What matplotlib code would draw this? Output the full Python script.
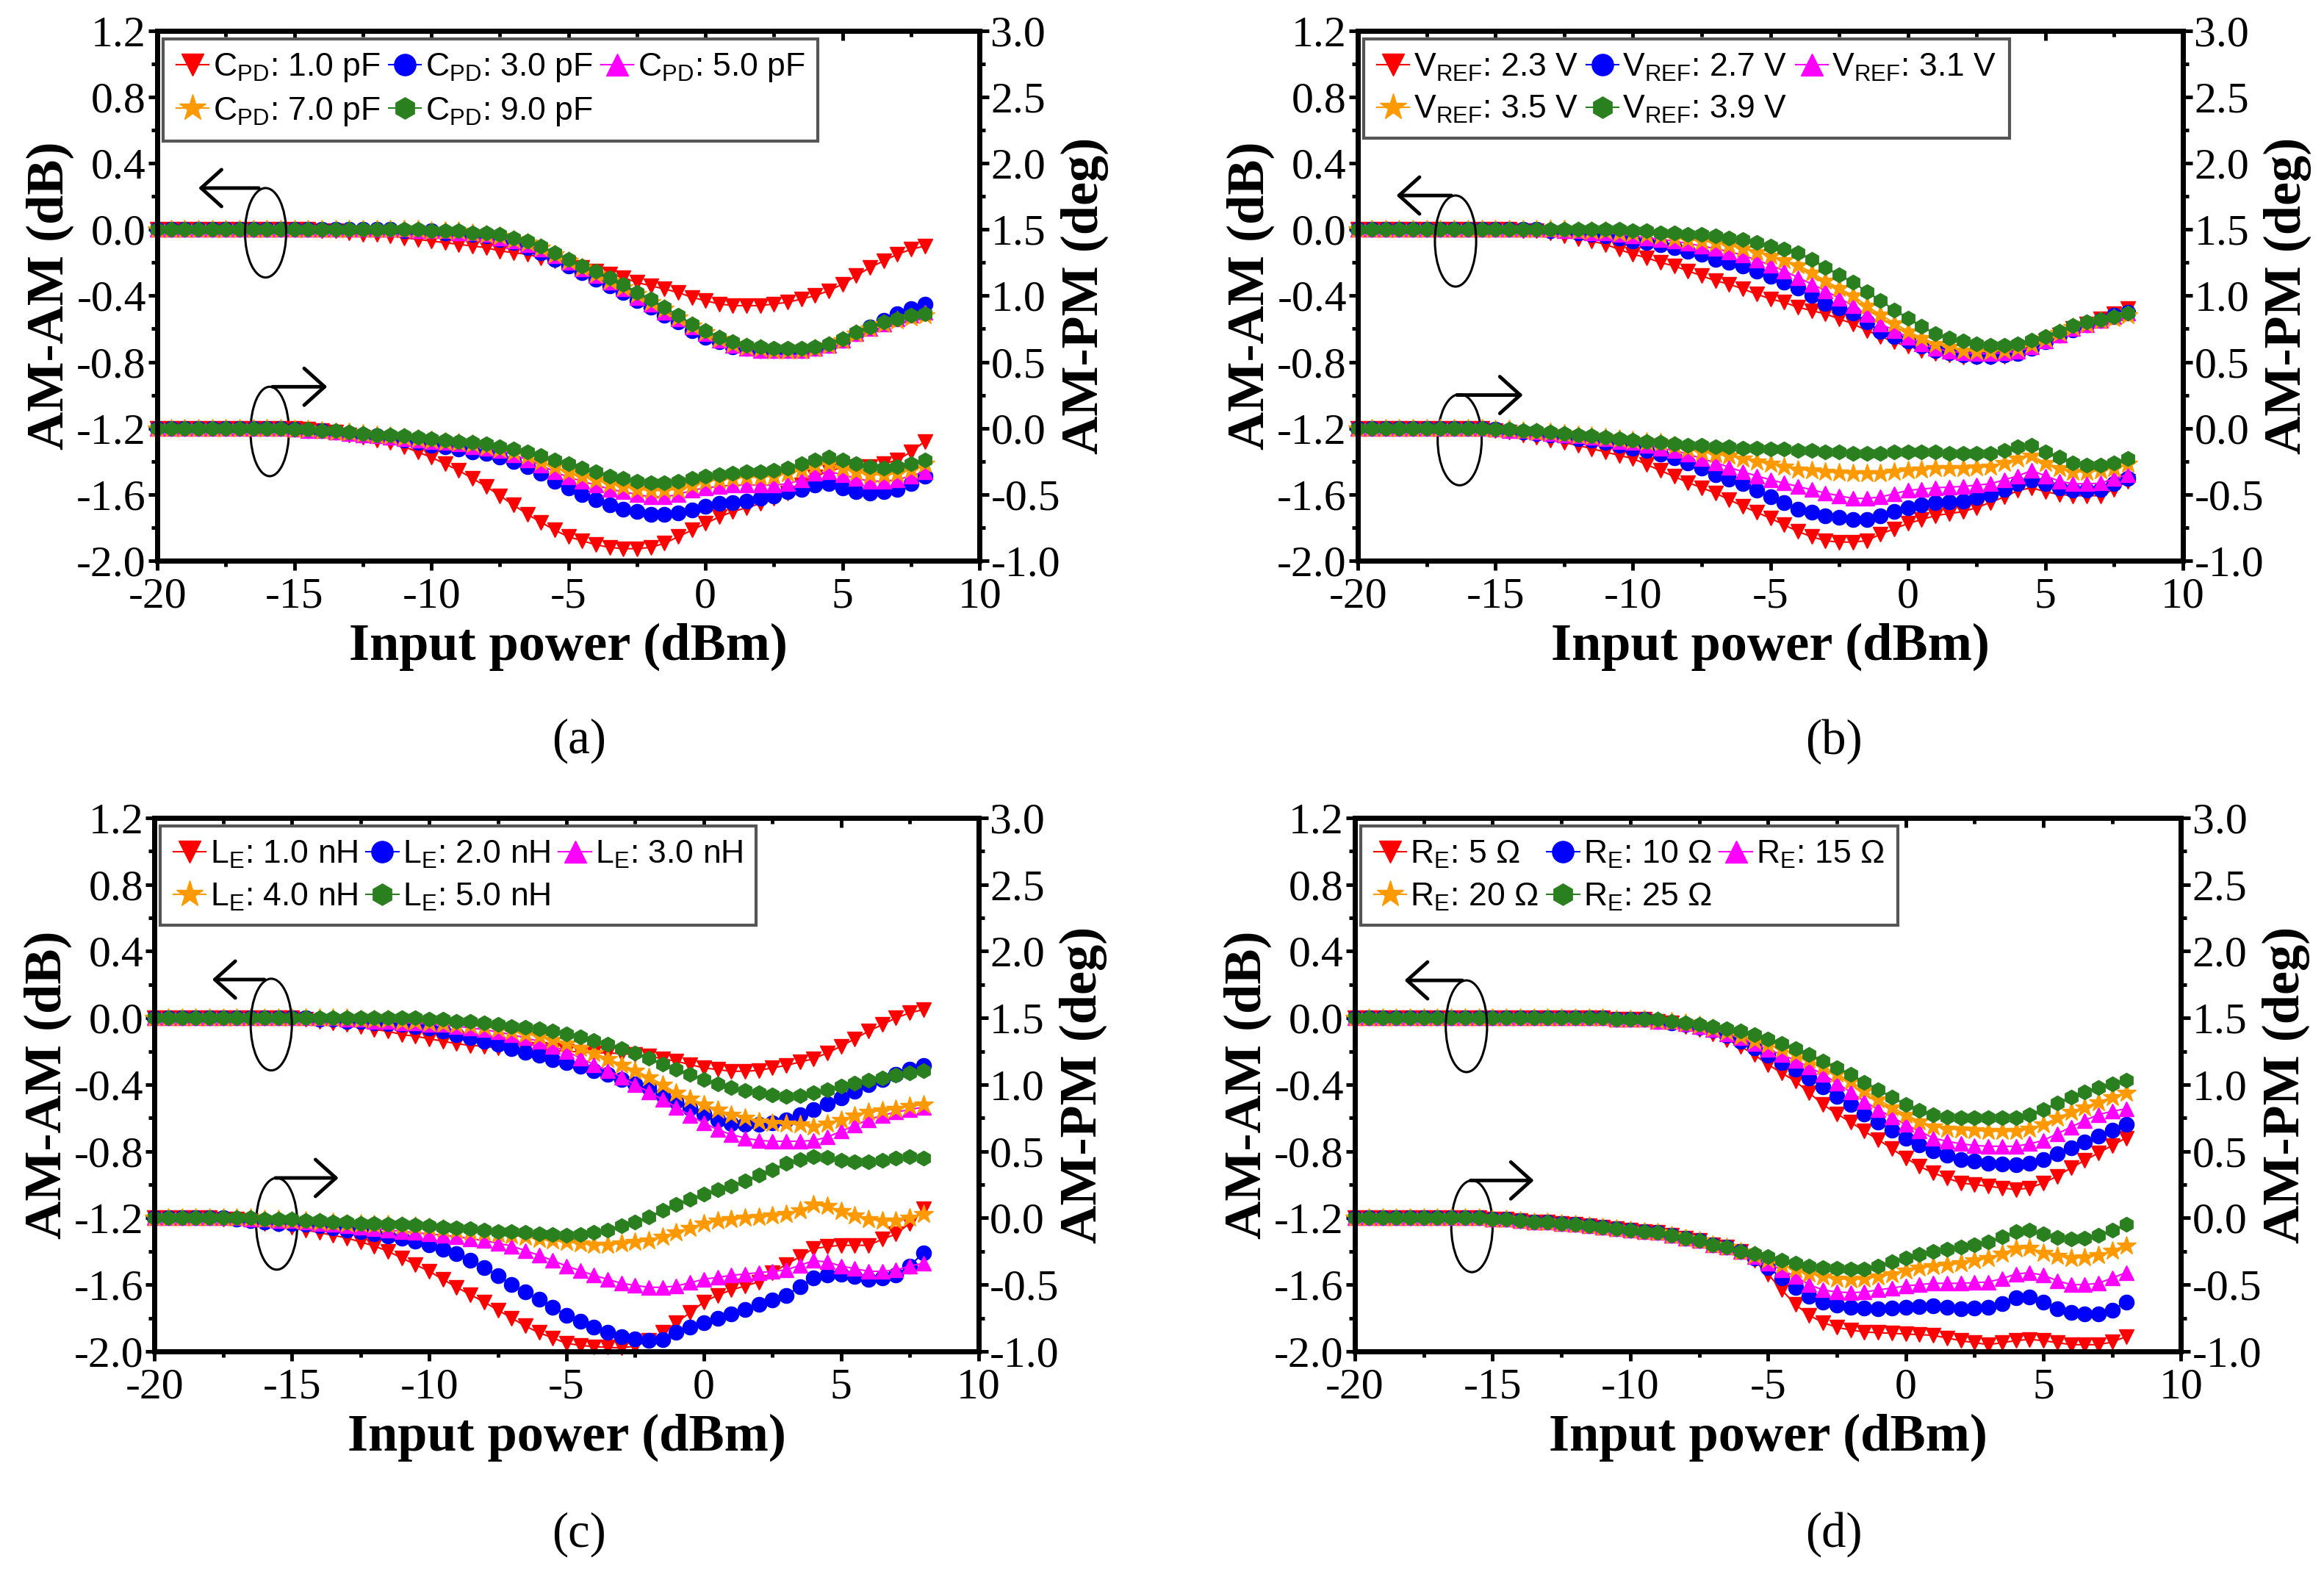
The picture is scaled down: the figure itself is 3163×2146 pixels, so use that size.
import matplotlib
matplotlib.use("Agg")
import matplotlib.pyplot as plt
from matplotlib.patches import Ellipse
from matplotlib.ticker import MultipleLocator, FormatStrFormatter

plt.rcParams['font.family'] = ['Liberation Serif', 'DejaVu Serif']
plt.rcParams['mathtext.fontset'] = 'custom'
plt.rcParams['mathtext.rm'] = 'Liberation Sans'
plt.rcParams['mathtext.it'] = 'Liberation Sans:italic'
plt.rcParams['mathtext.bf'] = 'Liberation Sans:bold'
plt.rcParams['axes.unicode_minus'] = False

# ---------------- data ----------------
x = [-20, -19.5, -19, -18.5, -18, -17.5, -17, -16.5, -16, -15.5,
     -15, -14.5, -14, -13.5, -13, -12.5, -12, -11.5, -11, -10.5,
     -10, -9.5, -9, -8.5, -8, -7.5, -7, -6.5, -6, -5.5,
     -5, -4.5, -4, -3.5, -3, -2.5, -2, -1.5, -1, -0.5,
     0, 0.5, 1, 1.5, 2, 2.5, 3, 3.5, 4, 4.5,
     5, 5.5, 6, 6.5, 7, 7.5, 8]

colors = ['#FF0000', '#0000FF', '#FF00FF', '#FF9900', '#2A7F1F']
markers = ['v', 'o', '^', '*', 'h']

# (a) C_PD sweep
a_labels = ['C$_{\\mathrm{PD}}$: 1.0 pF', 'C$_{\\mathrm{PD}}$: 3.0 pF', 'C$_{\\mathrm{PD}}$: 5.0 pF',
            'C$_{\\mathrm{PD}}$: 7.0 pF', 'C$_{\\mathrm{PD}}$: 9.0 pF']
a_am_1 = [0, 0, 0, 0, 0, 0, 0, 0, 0, 0,
          0, 0, -0.01, -0.01, -0.02, -0.03, -0.03, -0.04, -0.05, -0.06,
          -0.07, -0.08, -0.09, -0.10, -0.11, -0.13, -0.14, -0.15, -0.17, -0.19,
          -0.21, -0.23, -0.25, -0.27, -0.29, -0.32, -0.34, -0.36, -0.38, -0.41,
          -0.43, -0.45, -0.46, -0.46, -0.46, -0.45, -0.44, -0.42, -0.40, -0.37,
          -0.33, -0.28, -0.23, -0.19, -0.15, -0.12, -0.10]
a_am_3 = [0, 0, 0, 0, 0, 0, 0, 0, 0, 0,
          0, 0, 0, 0, 0, 0, 0, 0, -0.01, -0.01,
          -0.01, -0.02, -0.02, -0.03, -0.04, -0.06, -0.08, -0.11, -0.14, -0.18,
          -0.22, -0.26, -0.30, -0.34, -0.38, -0.43, -0.47, -0.52, -0.56, -0.61,
          -0.65, -0.68, -0.71, -0.72, -0.73, -0.73, -0.73, -0.73, -0.72, -0.70,
          -0.67, -0.63, -0.59, -0.55, -0.51, -0.48, -0.45]
a_am_5 = [0, 0, 0, 0, 0, 0, 0, 0, 0, 0,
          0, 0, 0, 0, 0, 0, 0, 0, 0, -0.01,
          -0.01, -0.01, -0.02, -0.02, -0.03, -0.05, -0.07, -0.09, -0.12, -0.16,
          -0.20, -0.24, -0.28, -0.32, -0.36, -0.41, -0.45, -0.50, -0.54, -0.59,
          -0.63, -0.67, -0.70, -0.72, -0.73, -0.73, -0.73, -0.73, -0.72, -0.70,
          -0.67, -0.63, -0.60, -0.57, -0.54, -0.52, -0.50]
a_am_7 = [0, 0, 0, 0, 0, 0, 0, 0, 0, 0,
          0, 0, 0, 0, 0, 0, 0, 0, 0, 0,
          -0.01, -0.01, -0.01, -0.02, -0.03, -0.04, -0.06, -0.08, -0.11, -0.15,
          -0.19, -0.23, -0.27, -0.31, -0.35, -0.39, -0.44, -0.48, -0.53, -0.58,
          -0.62, -0.66, -0.69, -0.71, -0.72, -0.73, -0.73, -0.73, -0.72, -0.70,
          -0.67, -0.63, -0.60, -0.57, -0.55, -0.53, -0.52]
a_am_9 = [0, 0, 0, 0, 0, 0, 0, 0, 0, 0,
          0, 0, 0, 0, 0, 0, 0, 0, 0, 0,
          -0.01, -0.01, -0.01, -0.02, -0.02, -0.03, -0.05, -0.07, -0.10, -0.14,
          -0.18, -0.22, -0.25, -0.29, -0.33, -0.38, -0.42, -0.47, -0.52, -0.57,
          -0.61, -0.65, -0.68, -0.70, -0.71, -0.72, -0.72, -0.72, -0.71, -0.69,
          -0.66, -0.62, -0.59, -0.56, -0.54, -0.52, -0.51]
a_pm_1 = [0, 0, 0, 0, 0, 0, 0, 0, 0, 0,
          0, -0.01, -0.02, -0.03, -0.05, -0.07, -0.09, -0.11, -0.14, -0.18,
          -0.22, -0.27, -0.32, -0.38, -0.44, -0.51, -0.58, -0.65, -0.71, -0.77,
          -0.82, -0.85, -0.88, -0.90, -0.91, -0.91, -0.90, -0.87, -0.82, -0.77,
          -0.72, -0.67, -0.63, -0.60, -0.57, -0.53, -0.49, -0.43, -0.37, -0.32,
          -0.30, -0.29, -0.29, -0.27, -0.24, -0.18, -0.10]
a_pm_3 = [0, 0, 0, 0, 0, 0, 0, 0, 0, 0,
          -0.01, -0.02, -0.02, -0.03, -0.04, -0.05, -0.06, -0.07, -0.09, -0.11,
          -0.13, -0.14, -0.16, -0.18, -0.19, -0.22, -0.25, -0.29, -0.34, -0.40,
          -0.45, -0.50, -0.54, -0.58, -0.61, -0.63, -0.65, -0.65, -0.64, -0.62,
          -0.59, -0.57, -0.56, -0.55, -0.53, -0.51, -0.48, -0.46, -0.43, -0.42,
          -0.45, -0.48, -0.49, -0.48, -0.46, -0.42, -0.36]
a_pm_5 = [0, 0, 0, 0, 0, 0, 0, 0, 0, 0,
          -0.01, -0.02, -0.02, -0.03, -0.04, -0.05, -0.06, -0.07, -0.08, -0.09,
          -0.10, -0.11, -0.12, -0.14, -0.15, -0.17, -0.20, -0.24, -0.28, -0.33,
          -0.37, -0.40, -0.43, -0.46, -0.48, -0.50, -0.52, -0.52, -0.50, -0.47,
          -0.45, -0.44, -0.43, -0.43, -0.43, -0.43, -0.42, -0.39, -0.34, -0.33,
          -0.35, -0.38, -0.40, -0.40, -0.39, -0.36, -0.33]
a_pm_7 = [0, 0, 0, 0, 0, 0, 0, 0, 0, 0,
          -0.01, -0.01, -0.02, -0.03, -0.03, -0.04, -0.05, -0.06, -0.07, -0.08,
          -0.09, -0.10, -0.11, -0.12, -0.14, -0.16, -0.18, -0.21, -0.25, -0.29,
          -0.33, -0.36, -0.39, -0.42, -0.44, -0.46, -0.47, -0.47, -0.46, -0.43,
          -0.40, -0.39, -0.38, -0.37, -0.37, -0.36, -0.34, -0.31, -0.28, -0.27,
          -0.30, -0.33, -0.35, -0.35, -0.34, -0.31, -0.27]
a_pm_9 = [0, 0, 0, 0, 0, 0, 0, 0, 0, 0,
          -0.01, -0.01, -0.02, -0.02, -0.03, -0.04, -0.05, -0.05, -0.06, -0.07,
          -0.08, -0.09, -0.10, -0.11, -0.12, -0.14, -0.16, -0.18, -0.21, -0.24,
          -0.27, -0.30, -0.33, -0.36, -0.38, -0.40, -0.41, -0.41, -0.40, -0.38,
          -0.36, -0.35, -0.34, -0.33, -0.33, -0.32, -0.30, -0.27, -0.24, -0.22,
          -0.24, -0.27, -0.29, -0.30, -0.29, -0.27, -0.24]

# (b) V_REF sweep
b_labels = ['V$_{\\mathrm{REF}}$: 2.3 V', 'V$_{\\mathrm{REF}}$: 2.7 V', 'V$_{\\mathrm{REF}}$: 3.1 V',
            'V$_{\\mathrm{REF}}$: 3.5 V', 'V$_{\\mathrm{REF}}$: 3.9 V']
b_am_23 = [0, 0, 0, 0, 0, 0, 0, 0, 0, 0,
           0, 0, -0.01, -0.01, -0.02, -0.04, -0.055, -0.07, -0.09, -0.12,
           -0.15, -0.17, -0.20, -0.22, -0.25, -0.28, -0.31, -0.33, -0.36, -0.39,
           -0.42, -0.44, -0.47, -0.49, -0.51, -0.54, -0.57, -0.61, -0.645, -0.68,
           -0.705, -0.73, -0.75, -0.76, -0.77, -0.77, -0.77, -0.765, -0.75, -0.72,
           -0.675, -0.64, -0.60, -0.57, -0.54, -0.51, -0.48]
b_am_27 = [0, 0, 0, 0, 0, 0, 0, 0, 0, 0,
           0, 0, 0, 0, -0.01, -0.01, -0.02, -0.03, -0.04, -0.05,
           -0.07, -0.08, -0.09, -0.11, -0.13, -0.15, -0.18, -0.20, -0.22, -0.25,
           -0.285, -0.32, -0.355, -0.40, -0.445, -0.475, -0.505, -0.56, -0.615, -0.645,
           -0.675, -0.705, -0.73, -0.745, -0.76, -0.765, -0.765, -0.76, -0.75, -0.72,
           -0.68, -0.64, -0.605, -0.575, -0.55, -0.52, -0.50]
b_am_31 = [0, 0, 0, 0, 0, 0, 0, 0, 0, 0,
           0, 0, 0, 0, 0, -0.01, -0.01, -0.02, -0.02, -0.03,
           -0.04, -0.05, -0.06, -0.07, -0.085, -0.10, -0.115, -0.135, -0.155, -0.185,
           -0.215, -0.25, -0.29, -0.33, -0.37, -0.415, -0.46, -0.515, -0.57, -0.61,
           -0.65, -0.69, -0.72, -0.735, -0.745, -0.75, -0.75, -0.745, -0.735, -0.71,
           -0.675, -0.64, -0.60, -0.575, -0.55, -0.525, -0.505]
b_am_35 = [0, 0, 0, 0, 0, 0, 0, 0, 0, 0,
           0, 0, 0, 0, 0, 0, -0.01, -0.01, -0.01, -0.02,
           -0.02, -0.03, -0.04, -0.05, -0.06, -0.07, -0.08, -0.095, -0.115, -0.135,
           -0.16, -0.185, -0.215, -0.26, -0.31, -0.355, -0.40, -0.46, -0.515, -0.565,
           -0.615, -0.655, -0.69, -0.71, -0.73, -0.735, -0.735, -0.73, -0.72, -0.695,
           -0.66, -0.625, -0.59, -0.57, -0.55, -0.535, -0.52]
b_am_39 = [0, 0, 0, 0, 0, 0, 0, 0, 0, 0,
           0, 0, 0, 0, 0, 0, 0, 0, 0, 0,
           -0.01, -0.01, -0.02, -0.02, -0.03, -0.03, -0.04, -0.05, -0.06, -0.08,
           -0.10, -0.12, -0.14, -0.18, -0.23, -0.275, -0.32, -0.375, -0.43, -0.485,
           -0.535, -0.585, -0.63, -0.655, -0.675, -0.69, -0.70, -0.70, -0.69, -0.67,
           -0.645, -0.615, -0.58, -0.56, -0.545, -0.525, -0.505]
b_pm_23 = [0, 0, 0, 0, 0, 0, 0, 0, 0, 0,
           -0.02, -0.03, -0.05, -0.07, -0.09, -0.11, -0.13, -0.155, -0.18, -0.205,
           -0.23, -0.275, -0.32, -0.365, -0.41, -0.45, -0.49, -0.54, -0.59, -0.635,
           -0.68, -0.73, -0.78, -0.82, -0.85, -0.86, -0.86, -0.85, -0.80, -0.76,
           -0.72, -0.69, -0.66, -0.645, -0.63, -0.60, -0.56, -0.52, -0.47, -0.45,
           -0.48, -0.50, -0.51, -0.51, -0.51, -0.46, -0.40]
b_pm_27 = [0, 0, 0, 0, 0, 0, 0, 0, 0, 0,
           -0.01, -0.02, -0.03, -0.04, -0.05, -0.06, -0.08, -0.09, -0.11, -0.13,
           -0.15, -0.17, -0.195, -0.225, -0.26, -0.30, -0.35, -0.385, -0.42, -0.47,
           -0.52, -0.565, -0.61, -0.635, -0.66, -0.675, -0.69, -0.69, -0.66, -0.63,
           -0.60, -0.58, -0.56, -0.555, -0.55, -0.525, -0.50, -0.46, -0.42, -0.39,
           -0.42, -0.45, -0.47, -0.47, -0.46, -0.42, -0.38]
b_pm_31 = [0, 0, 0, 0, 0, 0, 0, 0, 0, 0,
           -0.01, -0.02, -0.02, -0.03, -0.04, -0.05, -0.06, -0.07, -0.08, -0.10,
           -0.11, -0.13, -0.15, -0.17, -0.195, -0.23, -0.26, -0.295, -0.33, -0.36,
           -0.39, -0.415, -0.44, -0.465, -0.49, -0.51, -0.53, -0.53, -0.52, -0.495,
           -0.47, -0.46, -0.45, -0.445, -0.44, -0.43, -0.42, -0.39, -0.36, -0.32,
           -0.36, -0.40, -0.42, -0.42, -0.415, -0.38, -0.35]
b_pm_35 = [0, 0, 0, 0, 0, 0, 0, 0, 0, 0,
           -0.01, -0.01, -0.02, -0.03, -0.03, -0.04, -0.05, -0.06, -0.07, -0.08,
           -0.09, -0.10, -0.11, -0.13, -0.16, -0.18, -0.195, -0.21, -0.23, -0.25,
           -0.27, -0.29, -0.31, -0.32, -0.33, -0.335, -0.34, -0.34, -0.34, -0.33,
           -0.32, -0.31, -0.30, -0.30, -0.30, -0.295, -0.29, -0.26, -0.23, -0.21,
           -0.26, -0.30, -0.33, -0.33, -0.32, -0.30, -0.27]
b_pm_39 = [0, 0, 0, 0, 0, 0, 0, 0, 0, 0,
           -0.01, -0.01, -0.02, -0.02, -0.03, -0.04, -0.05, -0.06, -0.07, -0.08,
           -0.09, -0.10, -0.11, -0.12, -0.13, -0.13, -0.14, -0.14, -0.15, -0.15,
           -0.16, -0.16, -0.17, -0.17, -0.18, -0.18, -0.19, -0.19, -0.19, -0.18,
           -0.18, -0.18, -0.18, -0.19, -0.19, -0.19, -0.19, -0.17, -0.14, -0.13,
           -0.18, -0.22, -0.26, -0.28, -0.28, -0.26, -0.23]

# (c) L_E sweep
c_labels = ['L$_{\\mathrm{E}}$: 1.0 nH', 'L$_{\\mathrm{E}}$: 2.0 nH', 'L$_{\\mathrm{E}}$: 3.0 nH',
            'L$_{\\mathrm{E}}$: 4.0 nH', 'L$_{\\mathrm{E}}$: 5.0 nH']
c_am_1 = [0, 0, 0, 0, 0, 0, 0, 0, 0, 0,
          0, -0.01, -0.02, -0.03, -0.04, -0.05, -0.07, -0.08, -0.10, -0.11,
          -0.125, -0.14, -0.155, -0.165, -0.17, -0.18, -0.185, -0.19, -0.19, -0.195,
          -0.20, -0.205, -0.21, -0.21, -0.215, -0.22, -0.23, -0.245, -0.26, -0.28,
          -0.30, -0.31, -0.32, -0.32, -0.315, -0.30, -0.285, -0.265, -0.245, -0.21,
          -0.17, -0.125, -0.08, -0.04, 0.0, 0.03, 0.05]
c_am_2 = [0, 0, 0, 0, 0, 0, 0, 0, 0, 0,
          0, 0, -0.01, -0.01, -0.02, -0.02, -0.03, -0.035, -0.04, -0.05,
          -0.06, -0.08, -0.10, -0.12, -0.14, -0.16, -0.185, -0.205, -0.225, -0.25,
          -0.27, -0.29, -0.315, -0.34, -0.37, -0.395, -0.42, -0.46, -0.50, -0.54,
          -0.575, -0.61, -0.635, -0.64, -0.64, -0.63, -0.61, -0.58, -0.55, -0.515,
          -0.48, -0.44, -0.40, -0.37, -0.34, -0.31, -0.285]
c_am_3 = [0, 0, 0, 0, 0, 0, 0, 0, 0, 0,
          0, 0, 0, 0, -0.01, -0.01, -0.02, -0.02, -0.03, -0.03,
          -0.04, -0.04, -0.05, -0.06, -0.07, -0.085, -0.10, -0.12, -0.14, -0.17,
          -0.20, -0.24, -0.28, -0.315, -0.355, -0.40, -0.445, -0.49, -0.535, -0.585,
          -0.63, -0.67, -0.70, -0.72, -0.735, -0.74, -0.74, -0.74, -0.735, -0.715,
          -0.68, -0.645, -0.61, -0.585, -0.565, -0.55, -0.535]
c_am_4 = [0, 0, 0, 0, 0, 0, 0, 0, 0, 0,
          0, 0, 0, 0, 0, -0.01, -0.01, -0.01, -0.02, -0.02,
          -0.03, -0.035, -0.04, -0.045, -0.05, -0.065, -0.08, -0.095, -0.11, -0.13,
          -0.155, -0.18, -0.21, -0.245, -0.28, -0.315, -0.355, -0.40, -0.45, -0.485,
          -0.52, -0.55, -0.58, -0.60, -0.62, -0.63, -0.635, -0.64, -0.65, -0.635,
          -0.61, -0.585, -0.565, -0.555, -0.545, -0.53, -0.52]
c_am_5 = [0, 0, 0, 0, 0, 0, 0, 0, 0, 0,
          0, 0, 0, 0, 0, 0, 0, 0, 0, 0,
          -0.01, -0.01, -0.02, -0.02, -0.03, -0.04, -0.05, -0.055, -0.065, -0.08,
          -0.095, -0.115, -0.135, -0.16, -0.185, -0.21, -0.24, -0.275, -0.31, -0.34,
          -0.37, -0.395, -0.42, -0.435, -0.45, -0.46, -0.47, -0.465, -0.45, -0.43,
          -0.41, -0.39, -0.375, -0.36, -0.345, -0.33, -0.315]
c_pm_1 = [0, 0, 0, 0, 0, -0.01, -0.01, -0.02, -0.04, -0.05,
          -0.07, -0.09, -0.11, -0.13, -0.15, -0.18, -0.21, -0.25, -0.30, -0.35,
          -0.40, -0.46, -0.52, -0.575, -0.63, -0.69, -0.75, -0.81, -0.86, -0.90,
          -0.94, -0.955, -0.965, -0.97, -0.975, -0.96, -0.92, -0.86, -0.785, -0.71,
          -0.63, -0.58, -0.54, -0.51, -0.48, -0.41, -0.35, -0.29, -0.23, -0.215,
          -0.205, -0.205, -0.205, -0.16, -0.12, -0.04, 0.07]
c_pm_2 = [0, 0, 0, 0, 0, 0, -0.01, -0.02, -0.03, -0.04,
          -0.04, -0.05, -0.06, -0.075, -0.09, -0.105, -0.12, -0.135, -0.15, -0.175,
          -0.20, -0.235, -0.27, -0.32, -0.37, -0.435, -0.50, -0.555, -0.61, -0.67,
          -0.73, -0.775, -0.82, -0.855, -0.89, -0.905, -0.92, -0.91, -0.86, -0.82,
          -0.785, -0.75, -0.72, -0.685, -0.65, -0.615, -0.58, -0.515, -0.45, -0.43,
          -0.42, -0.44, -0.46, -0.45, -0.43, -0.36, -0.26]
c_pm_3 = [0, 0, 0, 0, 0, 0, 0, -0.01, -0.01, -0.02,
          -0.02, -0.03, -0.04, -0.05, -0.06, -0.07, -0.08, -0.09, -0.10, -0.11,
          -0.12, -0.13, -0.14, -0.155, -0.17, -0.19, -0.21, -0.245, -0.28, -0.32,
          -0.36, -0.395, -0.43, -0.46, -0.49, -0.505, -0.52, -0.52, -0.51, -0.485,
          -0.46, -0.445, -0.43, -0.42, -0.41, -0.40, -0.39, -0.355, -0.32, -0.33,
          -0.36, -0.38, -0.40, -0.40, -0.39, -0.36, -0.34]
c_pm_4 = [0, 0, 0, 0, 0, 0, 0, 0, -0.01, -0.01,
          -0.02, -0.02, -0.03, -0.03, -0.04, -0.04, -0.05, -0.05, -0.06, -0.06,
          -0.07, -0.08, -0.09, -0.10, -0.11, -0.12, -0.13, -0.14, -0.16, -0.17,
          -0.18, -0.19, -0.20, -0.20, -0.19, -0.18, -0.17, -0.14, -0.11, -0.075,
          -0.04, -0.02, -0.01, 0.0, 0.01, 0.02, 0.03, 0.06, 0.10, 0.09,
          0.05, 0.02, -0.01, -0.02, -0.02, 0.0, 0.03]
c_pm_5 = [0, 0, 0, 0, 0, 0, 0, 0, -0.01, -0.01,
          -0.01, -0.02, -0.02, -0.03, -0.03, -0.04, -0.04, -0.05, -0.05, -0.055,
          -0.06, -0.07, -0.075, -0.08, -0.09, -0.10, -0.105, -0.11, -0.12, -0.125,
          -0.13, -0.125, -0.11, -0.09, -0.06, -0.03, 0.01, 0.055, 0.10, 0.14,
          0.18, 0.21, 0.24, 0.28, 0.32, 0.36, 0.41, 0.44, 0.46, 0.455,
          0.43, 0.42, 0.42, 0.43, 0.45, 0.46, 0.45]

# (d) R_E sweep
d_labels = ['R$_{\\mathrm{E}}$: 5 Ω', 'R$_{\\mathrm{E}}$: 10 Ω', 'R$_{\\mathrm{E}}$: 15 Ω',
            'R$_{\\mathrm{E}}$: 20 Ω', 'R$_{\\mathrm{E}}$: 25 Ω']
d_am_5 = [0, 0, 0, 0, 0, 0, 0, 0, 0, 0,
          0, 0, 0, 0, 0, 0, 0, 0, 0, -0.01,
          -0.01, -0.01, -0.02, -0.03, -0.05, -0.07, -0.095, -0.13, -0.17, -0.22,
          -0.28, -0.33, -0.38, -0.45, -0.52, -0.575, -0.625, -0.68, -0.73, -0.785,
          -0.84, -0.89, -0.93, -0.96, -0.99, -1.00, -1.01, -1.02, -1.03, -1.02,
          -0.99, -0.95, -0.90, -0.855, -0.81, -0.765, -0.72]
d_am_10 = [0, 0, 0, 0, 0, 0, 0, 0, 0, 0,
           0, 0, 0, 0, 0, 0, 0, 0, 0, -0.01,
           -0.01, -0.01, -0.02, -0.03, -0.04, -0.055, -0.075, -0.105, -0.14, -0.18,
           -0.225, -0.27, -0.31, -0.36, -0.415, -0.47, -0.52, -0.575, -0.625, -0.675,
           -0.72, -0.76, -0.795, -0.825, -0.85, -0.86, -0.87, -0.875, -0.88, -0.87,
           -0.85, -0.815, -0.78, -0.745, -0.71, -0.675, -0.64]
d_am_15 = [0, 0, 0, 0, 0, 0, 0, 0, 0, 0,
           0, 0, 0, 0, 0, 0, 0, 0, 0, -0.01,
           -0.01, -0.01, -0.02, -0.02, -0.035, -0.05, -0.07, -0.095, -0.12, -0.155,
           -0.19, -0.22, -0.255, -0.295, -0.34, -0.39, -0.445, -0.50, -0.55, -0.595,
           -0.64, -0.68, -0.72, -0.74, -0.755, -0.765, -0.77, -0.77, -0.77, -0.755,
           -0.735, -0.695, -0.655, -0.615, -0.58, -0.56, -0.545]
d_am_20 = [0, 0, 0, 0, 0, 0, 0, 0, 0, 0,
           0, 0, 0, 0, 0, 0, 0, 0, 0, -0.01,
           -0.01, -0.01, -0.015, -0.02, -0.03, -0.045, -0.06, -0.085, -0.11, -0.135,
           -0.16, -0.185, -0.215, -0.25, -0.29, -0.335, -0.38, -0.435, -0.49, -0.535,
           -0.58, -0.62, -0.65, -0.665, -0.67, -0.675, -0.68, -0.68, -0.68, -0.665,
           -0.64, -0.60, -0.565, -0.535, -0.505, -0.475, -0.45]
d_am_25 = [0, 0, 0, 0, 0, 0, 0, 0, 0, 0,
           0, 0, 0, 0, 0, 0, 0, 0, 0, -0.01,
           -0.01, -0.01, -0.01, -0.02, -0.03, -0.04, -0.05, -0.065, -0.08, -0.10,
           -0.125, -0.155, -0.185, -0.22, -0.26, -0.30, -0.34, -0.385, -0.43, -0.475,
           -0.52, -0.555, -0.58, -0.595, -0.60, -0.60, -0.60, -0.60, -0.60, -0.58,
           -0.55, -0.51, -0.475, -0.445, -0.42, -0.395, -0.375]
d_pm_5 = [0, 0, 0, 0, 0, 0, 0, 0, 0, 0,
          -0.01, -0.01, -0.02, -0.03, -0.03, -0.04, -0.05, -0.06, -0.07, -0.08,
          -0.09, -0.10, -0.11, -0.13, -0.15, -0.17, -0.20, -0.22, -0.25, -0.32,
          -0.42, -0.54, -0.65, -0.73, -0.785, -0.82, -0.84, -0.855, -0.86, -0.865,
          -0.87, -0.875, -0.88, -0.90, -0.92, -0.935, -0.95, -0.935, -0.92, -0.91,
          -0.92, -0.935, -0.95, -0.95, -0.95, -0.93, -0.89]
d_pm_10 = [0, 0, 0, 0, 0, 0, 0, 0, 0, 0,
           -0.01, -0.01, -0.02, -0.03, -0.03, -0.04, -0.05, -0.06, -0.07, -0.08,
           -0.09, -0.10, -0.11, -0.13, -0.15, -0.17, -0.20, -0.22, -0.25, -0.30,
           -0.37, -0.45, -0.52, -0.585, -0.63, -0.655, -0.67, -0.675, -0.68, -0.675,
           -0.67, -0.665, -0.66, -0.67, -0.68, -0.675, -0.67, -0.645, -0.60, -0.595,
           -0.63, -0.68, -0.71, -0.72, -0.72, -0.69, -0.63]
d_pm_15 = [0, 0, 0, 0, 0, 0, 0, 0, 0, 0,
           -0.01, -0.01, -0.02, -0.03, -0.03, -0.04, -0.05, -0.06, -0.07, -0.08,
           -0.09, -0.10, -0.11, -0.13, -0.15, -0.17, -0.20, -0.22, -0.25, -0.29,
           -0.34, -0.39, -0.44, -0.50, -0.54, -0.555, -0.56, -0.555, -0.54, -0.525,
           -0.51, -0.50, -0.49, -0.49, -0.49, -0.485, -0.48, -0.455, -0.42, -0.41,
           -0.43, -0.47, -0.50, -0.50, -0.49, -0.45, -0.41]
d_pm_20 = [0, 0, 0, 0, 0, 0, 0, 0, 0, 0,
           -0.01, -0.01, -0.02, -0.03, -0.03, -0.04, -0.05, -0.06, -0.07, -0.08,
           -0.09, -0.10, -0.11, -0.13, -0.15, -0.17, -0.20, -0.22, -0.25, -0.28,
           -0.31, -0.35, -0.385, -0.415, -0.44, -0.455, -0.46, -0.455, -0.44, -0.42,
           -0.395, -0.375, -0.36, -0.35, -0.34, -0.32, -0.30, -0.265, -0.23, -0.225,
           -0.26, -0.285, -0.30, -0.295, -0.28, -0.245, -0.205]
d_pm_25 = [0, 0, 0, 0, 0, 0, 0, 0, 0, 0,
           -0.01, -0.01, -0.02, -0.03, -0.03, -0.04, -0.05, -0.06, -0.07, -0.08,
           -0.09, -0.10, -0.11, -0.13, -0.15, -0.17, -0.20, -0.22, -0.25, -0.27,
           -0.29, -0.315, -0.34, -0.36, -0.375, -0.38, -0.385, -0.385, -0.36, -0.33,
           -0.30, -0.275, -0.25, -0.235, -0.22, -0.20, -0.18, -0.14, -0.10, -0.09,
           -0.12, -0.145, -0.16, -0.15, -0.13, -0.09, -0.05]

left_ticks = [-2.0, -1.6, -1.2, -0.8, -0.4, 0.0, 0.4, 0.8, 1.2]
right_ticks = [-1.0, -0.5, 0.0, 0.5, 1.0, 1.5, 2.0, 2.5, 3.0]
x_ticks = [-20, -15, -10, -5, 0, 5, 10]

# ---------------- figure ----------------
W, H = 3163, 2146
fig = plt.figure(figsize=(W / 100, H / 100), dpi=100)

positions = {
    'a': [0.0677, 0.6445, 0.3538, 0.336],
    'b': [0.5843, 0.6445, 0.3550, 0.336],
    'c': [0.0665, 0.1431, 0.3545, 0.3383],
    'd': [0.5830, 0.1431, 0.3555, 0.3383],
}
letter_pos = {'a': (0.249, 0.530), 'b': (0.789, 0.530), 'c': (0.249, 0.027), 'd': (0.789, 0.027)}

# annotation geometry (ellipse center x, y, width, height, arrow y, arrow start, arrow tip) in data units
annots = {
    'a': [(-16.05, -0.02, 1.5, 0.54, 0.25, -16.3, -18.5), (-15.9, -1.22, 1.4, 0.54, -0.95, -15.8, -13.8)],
    'b': [(-16.45, -0.07, 1.5, 0.55, 0.205, -16.6, -18.6), (-16.3, -1.27, 1.6, 0.55, -1.0, -16.4, -14.0)],
    'c': [(-15.75, -0.04, 1.5, 0.55, 0.23, -16.0, -17.9), (-15.55, -1.235, 1.5, 0.55, -0.96, -15.6, -13.3)],
    'd': [(-15.95, -0.05, 1.5, 0.55, 0.225, -16.1, -18.2), (-15.75, -1.25, 1.5, 0.55, -0.975, -15.8, -13.5)],
}

panels = {
    'a': (a_labels, [a_am_1, a_am_3, a_am_5, a_am_7, a_am_9], [a_pm_1, a_pm_3, a_pm_5, a_pm_7, a_pm_9]),
    'b': (b_labels, [b_am_23, b_am_27, b_am_31, b_am_35, b_am_39], [b_pm_23, b_pm_27, b_pm_31, b_pm_35, b_pm_39]),
    'c': (c_labels, [c_am_1, c_am_2, c_am_3, c_am_4, c_am_5], [c_pm_1, c_pm_2, c_pm_3, c_pm_4, c_pm_5]),
    'd': (d_labels, [d_am_5, d_am_10, d_am_15, d_am_20, d_am_25], [d_pm_5, d_pm_10, d_pm_15, d_pm_20, d_pm_25]),
}

SPINE_LW = 5
TICK_FS = 43
LABEL_FS = 52

for key, (labels, ams, pms) in panels.items():
    ax = fig.add_axes(positions[key])
    ax2 = ax.twinx()
    handles = []
    for am, pm, c, m, lab in zip(ams, pms, colors, markers, labels):
        ms = 19 if m == '*' else 14.5
        h, = ax.plot(x, am, color=c, marker=m, ms=ms, lw=1.5, mec=c, label=lab, clip_on=False)
        ax2.plot(x, pm, color=c, marker=m, ms=ms, lw=1.5, mec=c, clip_on=False)
        handles.append(h)

    ax.set_xlim(-20, 10)
    ax.set_ylim(-2.0, 1.2)
    ax2.set_ylim(-1.0, 3.0)
    ax.set_xticks(x_ticks)
    ax.set_yticks(left_ticks)
    ax2.set_yticks(right_ticks)
    ax.xaxis.set_minor_locator(MultipleLocator(2.5))
    ax.yaxis.set_minor_locator(MultipleLocator(0.2))
    ax2.yaxis.set_minor_locator(MultipleLocator(0.25))
    ax.yaxis.set_major_formatter(FormatStrFormatter('%.1f'))
    ax2.yaxis.set_major_formatter(FormatStrFormatter('%.1f'))

    ax.tick_params(axis='y', which='major', direction='out', length=9, width=3.5,
                   labelsize=TICK_FS, right=False, pad=2)
    ax.tick_params(axis='x', which='major', direction='out', length=9, width=3.5,
                   labelsize=TICK_FS, pad=7)
    ax.tick_params(axis='both', which='minor', direction='out', length=6, width=3.5, right=False)
    ax2.tick_params(axis='y', which='major', direction='out', length=9, width=3.5,
                    labelsize=TICK_FS, pad=2)
    ax2.tick_params(axis='y', which='minor', direction='out', length=6, width=3.5)

    top = ax.secondary_xaxis('top')
    top.set_xticks(x_ticks)
    top.xaxis.set_minor_locator(MultipleLocator(2.5))
    top.tick_params(which='major', direction='in', length=9, width=3.5, labeltop=False)
    top.tick_params(which='minor', direction='in', length=6, width=3.5)
    top.spines['top'].set_linewidth(SPINE_LW)

    for a_ in (ax, ax2):
        for s in a_.spines.values():
            s.set_linewidth(SPINE_LW)

    ax.set_xlabel('Input power (dBm)', fontsize=LABEL_FS, fontweight='bold', labelpad=6)
    ax.set_ylabel('AM-AM (dB)', fontsize=LABEL_FS, fontweight='bold', labelpad=2)
    ax2.set_ylabel('AM-PM (deg)', fontsize=LABEL_FS, fontweight='bold', labelpad=0)

    # ellipse-and-arrow annotations
    for (cx, cy, w, hgt, ay, ax0, ax1) in annots[key]:
        ax.add_patch(Ellipse((cx, cy), w, hgt, fill=False, lw=2.2, ec='black', zorder=5))
        ax.annotate('', xy=(ax1, ay), xytext=(ax0, ay),
                    arrowprops=dict(arrowstyle='->,head_length=0.5,head_width=0.45',
                                    lw=3.5, color='black', shrinkA=0, shrinkB=0,
                                    mutation_scale=40), zorder=6)

    order = [0, 3, 1, 4, 2]
    leg = ax2.legend([handles[i] for i in order], [labels[i] for i in order],
                     loc='upper left', bbox_to_anchor=(0.007, 0.985), borderaxespad=0,
                     ncol=3, frameon=True, fancybox=False, framealpha=1,
                     edgecolor='#555555', prop={'family': 'Liberation Sans', 'size': 32},
                     handlelength=1.0, handletextpad=0.12, columnspacing=0.25,
                     labelspacing=0.35, borderpad=0.4, markerscale=1.45)
    leg.get_frame().set_linewidth(3)

    fig.text(*letter_pos[key], '(%s)' % key, ha='center', va='center', fontsize=48)

fig.savefig('out.png', dpi=100)
